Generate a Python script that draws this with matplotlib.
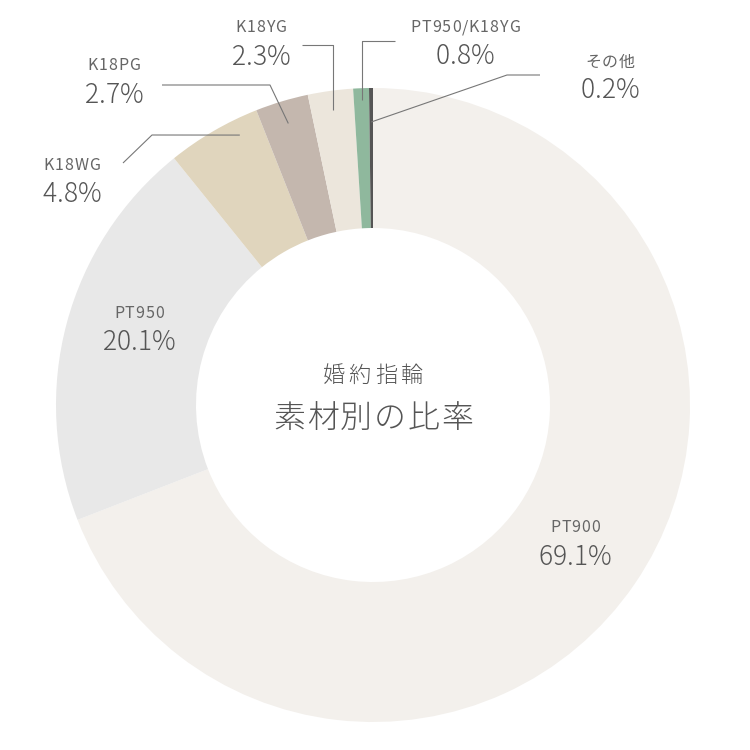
import numpy as np
import matplotlib
matplotlib.use("Agg")
import matplotlib.pyplot as plt

plt.rcParams['font.family'] = ['Noto Sans CJK JP', 'DejaVu Sans']

categories = ["PT900", "PT950", "K18WG", "K18PG", "K18YG", "PT950/K18YG", "その他"]
shares = [69.1, 20.1, 4.8, 2.7, 2.3, 0.8, 0.2]
pct_labels = ["69.1%", "20.1%", "4.8%", "2.7%", "2.3%", "0.8%", "0.2%"]
colors = ["#f3f0ec", "#e8e8e8", "#e0d5bd", "#c4b7ae", "#ece6dc", "#8fb89d", "#555555"]
title_small = "婚約指輪"
title_big = "素材別の比率"

H = 750
fig = plt.figure(figsize=(7.5, 7.5), dpi=100)
ax = fig.add_axes([0, 0, 1, 1])

cx, cy = 373, H - 405
R = 317
width = 140

wedges, _ = ax.pie(shares, colors=colors, startangle=90, counterclock=False,
                   radius=R, center=(cx, cy), frame=True,
                   wedgeprops=dict(width=width, edgecolor='none', linewidth=0))
ax.set_xlim(0, 750)
ax.set_ylim(0, 750)
ax.set_aspect('equal')
ax.axis('off')

fig.canvas.draw()
renderer = fig.canvas.get_renderer()


def tracked_text(x, y, s, spacing, **kw):
    """Draw centered text with extra letter spacing (in pixels = data units)."""
    widths = []
    for ch in s:
        t = ax.text(0, 0, ch if ch != " " else "i", **kw)
        widths.append(t.get_window_extent(renderer=renderer).width)
        t.remove()
    total = sum(widths) + spacing * (len(s) - 1)
    xx = x - total / 2
    for ch, w in zip(s, widths):
        ax.text(xx + w / 2, y, ch, ha='center', va='center', **kw)
        xx += w + spacing


txt = "#555555"
# label layout: (label center x, label y, pct y) in pixels from top
layout = {
    "PT900": (575, 528, 557),
    "PT950": (139, 314, 342),
    "K18WG": (72, 166, 194),
    "K18PG": (114, 66, 95),
    "K18YG": (261, 27, 57),
    "PT950/K18YG": (465, 28, 56),
    "その他": (610, 62, 90),
}
for name, pct in zip(categories, pct_labels):
    x, ly, py = layout[name]
    tracked_text(x, H - ly, name, 0.9, fontsize=11.5, color="#666666")
    tracked_text(x, H - py, pct, 0.0, fontsize=19, color=txt, fontweight='light')

# leader lines: anchor on wedge (fraction within wedge, radius), then elbow path
def wedge_point(i, t, r):
    w = wedges[i]
    a1, a2 = w.theta1, w.theta2
    ang = np.deg2rad(a1 + (a2 - a1) * t)
    return cx + r * np.cos(ang), cy + r * np.sin(ang)

leaders = {
    "K18WG": (0.27, 301, [(152, 135), (123, 163)]),
    "K18PG": (0.5, 294, [(270, 85), (162, 85)]),
    "K18YG": (0.5, 298, [(333, 45), (302, 45)]),
    "PT950/K18YG": (0.5, 305, [(361, 41), (395, 41)]),
    "その他": (0.5, 283, [(507, 75), (540, 75)]),
}
for name, (t, r, path) in leaders.items():
    i = categories.index(name)
    x0, y0 = wedge_point(i, t, r)
    xs = [x0]
    ys = [y0]
    for (px, py) in path:
        xs.append(px)
        ys.append(H - py)
    if name in ("K18YG", "PT950/K18YG"):
        xs[1] = x0
    ax.plot(xs, ys, color="#777777", lw=0.8, solid_capstyle='butt')

tracked_text(cx, H - 376, title_small, 4, fontsize=16, color=txt, fontweight='light')
tracked_text(cx, H - 419, title_big, 1.5, fontsize=23, color=txt, fontweight='light')

fig.savefig("out.png", dpi=100, facecolor='white')
